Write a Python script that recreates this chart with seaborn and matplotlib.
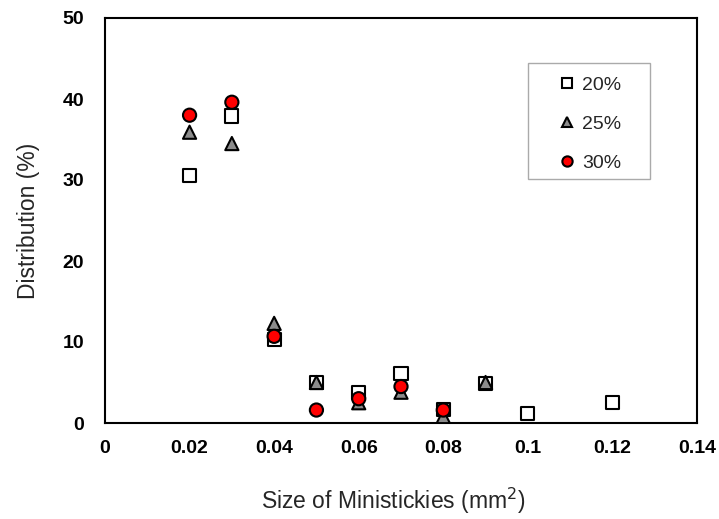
import matplotlib
matplotlib.use("Agg")
import matplotlib.pyplot as plt
from matplotlib.patches import Rectangle
import seaborn as sns
import pandas as pd

sizes_20 = [0.02, 0.03, 0.04, 0.05, 0.06, 0.07, 0.08, 0.09, 0.10, 0.12]
dist_20 = [30.6, 37.9, 10.3, 5.0, 3.8, 6.1, 1.7, 4.9, 1.2, 2.5]
sizes_25 = [0.02, 0.03, 0.04, 0.05, 0.06, 0.07, 0.08, 0.09]
dist_25 = [35.9, 34.5, 12.3, 5.0, 2.5, 3.8, 0.8, 5.0]
sizes_30 = [0.02, 0.03, 0.04, 0.05, 0.06, 0.07, 0.08]
dist_30 = [38.0, 39.6, 10.7, 1.6, 3.0, 4.5, 1.6]
series = ["20%", "25%", "30%"]
x_ticks = [0, 0.02, 0.04, 0.06, 0.08, 0.1, 0.12, 0.14]
x_tick_labels = ["0", "0.02", "0.04", "0.06", "0.08", "0.1", "0.12", "0.14"]
y_ticks = [0, 10, 20, 30, 40, 50]

df = pd.concat([
    pd.DataFrame({"size": sizes_20, "dist": dist_20, "conc": "20%"}),
    pd.DataFrame({"size": sizes_25, "dist": dist_25, "conc": "25%"}),
    pd.DataFrame({"size": sizes_30, "dist": dist_30, "conc": "30%"}),
], ignore_index=True)

sns.set_style("white")
plt.rcParams["font.family"] = ["Liberation Sans", "DejaVu Sans"]

W, H = 719, 519
fig = plt.figure(figsize=(W/100, H/100), dpi=100)
L, R, T, B = 105, 697, 18, 423
ax = fig.add_axes([L/W, 1-B/H, (R-L)/W, (B-T)/H])

palette = {"20%": "white", "25%": "#8c8c8c", "30%": "#ff0000"}
markers = {"20%": "s", "25%": "^", "30%": "o"}
sns.scatterplot(data=df, x="size", y="dist", hue="conc", style="conc",
                palette=palette, markers=markers, hue_order=series,
                style_order=series, s=90, edgecolor="black", linewidth=1.5,
                ax=ax, zorder=3, legend=True)

ax.set_xlim(0, 0.14)
ax.set_ylim(0, 50)
ax.set_xticks(x_ticks)
ax.set_xticklabels(x_tick_labels)
ax.set_yticks(y_ticks)
ax.tick_params(direction="in", length=5, width=1, colors="black", labelsize=14)
ax.tick_params(axis="x", pad=12)
ax.tick_params(axis="y", pad=15)
for lab in ax.get_xticklabels() + ax.get_yticklabels():
    lab.set_fontweight("bold")
for sp in ax.spines.values():
    sp.set_color("black")
    sp.set_linewidth(1.5)

ax.set_xlabel("Size of Ministickies (mm$^2$)", fontsize=16.5, labelpad=20)
ax.set_ylabel("Distribution (%)", fontsize=16.5, labelpad=16)


def ax_frac(px, py):
    return ((px - L) / (R - L), 1 - (py - T) / (B - T))


ax.xaxis.set_label_coords(ax_frac(393, 0)[0], -0.155)

leg = ax.legend(loc="upper left", bbox_to_anchor=ax_frac(557, 76),
                frameon=False, fontsize=14, markerscale=0.78,
                labelspacing=1.1, handlelength=1.0,
                handletextpad=0.3, borderpad=0, borderaxespad=0)

x0, y0 = ax_frac(528, 179)
x1, y1 = ax_frac(650, 63)
ax.add_patch(Rectangle((x0, y0), x1 - x0, y1 - y0, transform=ax.transAxes,
                       facecolor="white", edgecolor="#aaaaaa", linewidth=1,
                       zorder=2))

fig.savefig("out.png", dpi=100)
